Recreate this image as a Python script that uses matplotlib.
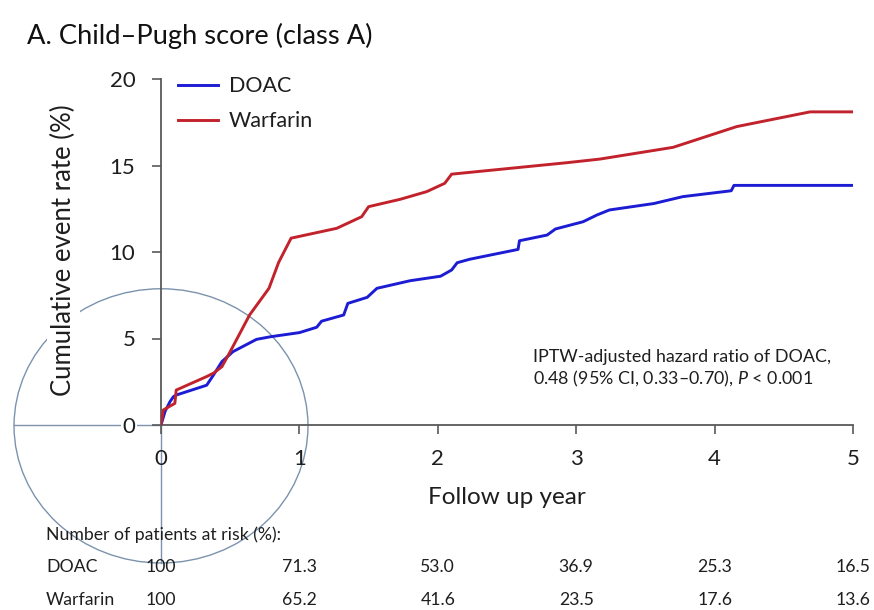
#
# Cumulative event rate, DOAC vs warfarin, Child-Pugh class A, with risk table
#

import matplotlib
matplotlib.use("Agg")
import matplotlib.pyplot as plt
import matplotlib.transforms as mtransforms
from matplotlib.patches import Ellipse

plt.rcParams['font.family'] = ['Lato', 'DejaVu Sans']
plt.rcParams['mathtext.fontset'] = 'custom'
plt.rcParams['mathtext.rm'] = 'Lato'
plt.rcParams['mathtext.it'] = 'Lato:italic'

# curves (year, cumulative event rate %)
doac_years = [0, 0.03, 0.065, 0.09, 0.11, 0.33, 0.38, 0.44, 0.52, 0.69, 0.79, 1.0,
              1.125, 1.16, 1.32, 1.35, 1.49, 1.56, 1.8, 2.02, 2.1, 2.14, 2.23,
              2.58, 2.59, 2.79, 2.85, 3.05, 3.15, 3.24, 3.56, 3.77, 4.12, 4.14, 5.0]
doac_rate = [0, 0.8, 1.35, 1.64, 1.73, 2.3, 2.9, 3.66, 4.24, 4.95, 5.1, 5.34,
             5.65, 6.0, 6.36, 7.03, 7.38, 7.9, 8.34, 8.6, 8.96, 9.38, 9.58,
             10.15, 10.65, 10.98, 11.33, 11.75, 12.14, 12.43, 12.8, 13.2, 13.54, 13.85, 13.85]

warf_years = [0, 0.017, 0.1, 0.11, 0.33, 0.38, 0.44, 0.5, 0.64, 0.78, 0.85, 0.94,
              1.27, 1.45, 1.5, 1.73, 1.92, 2.05, 2.1, 2.93, 3.17, 3.7, 4.16, 4.69, 5.0]
warf_rate = [0, 0.87, 1.25, 2.02, 2.8, 3.0, 3.37, 4.24, 6.36, 7.9, 9.4, 10.8,
             11.37, 12.04, 12.62, 13.05, 13.49, 13.97, 14.5, 15.16, 15.37, 16.05, 17.25, 18.1, 18.1]

# patients at risk (%)
risk_years = [0, 1, 2, 3, 4, 5]
doac_risk = ["100", "71.3", "53.0", "36.9", "25.3", "16.5"]
warf_risk = ["100", "65.2", "41.6", "23.5", "17.6", "13.6"]

BLUE = '#1c1cd4'
RED = '#c2222b'
SPINE = '#595959'
OVERLAY = '#7b93ad'
TXT = '#1e1e1e'

fig = plt.figure(figsize=(8.74, 6.10), dpi=100)
ax = fig.add_axes([161 / 874, 1 - 425 / 610, 692 / 874, 346 / 610])

ax.plot(doac_years, doac_rate, color=BLUE, lw=2.1, label='DOAC', zorder=3)
ax.plot(warf_years, warf_rate, color=RED, lw=2.1, label='Warfarin', zorder=3)

ax.set_xlim(0, 5)
ax.set_ylim(0, 20)
ax.set_xticks(risk_years)
ax.set_yticks([0, 5, 10, 15, 20])

for side in ['top', 'right']:
    ax.spines[side].set_visible(False)
for side in ['left', 'bottom']:
    ax.spines[side].set_color(SPINE)
    ax.spines[side].set_linewidth(1.3)
ax.tick_params(axis='both', direction='out', length=6.5, width=1.2, color=SPINE,
               labelsize=16, labelcolor=TXT)
ax.tick_params(axis='y', pad=12)
ax.tick_params(axis='x', pad=11)
for lab in ax.get_yticklabels():
    lab.set_bbox(dict(facecolor='white', edgecolor='none', pad=1))

# the circle and cross drawn over the origin in the source figure
ax.add_patch(Ellipse((0, -0.05), 2.124, 15.85, fill=False, edgecolor=OVERLAY,
                     lw=1, clip_on=False, zorder=0.5))
ax.plot([-1.062, 0], [0, 0], color=OVERLAY, lw=1, clip_on=False, zorder=0.5)
ax.plot([0, 0], [0, -7.97], color=OVERLAY, lw=1, clip_on=False, zorder=0.5)

ax.set_xlabel('Follow up year', fontsize=17.5, labelpad=13, color=TXT)
ax.set_ylabel('Cumulative event rate (%)', fontsize=18.5, color=TXT,
              bbox=dict(facecolor='white', edgecolor='none', pad=3))
ax.yaxis.set_label_coords(-0.123, 0.505)

leg = ax.legend(loc='upper left', bbox_to_anchor=(0.0246, 1.008), frameon=False,
                fontsize=15.5, handlelength=1.86, handletextpad=0.5, labelspacing=0.7,
                borderpad=0, borderaxespad=0)
for t in leg.get_texts():
    t.set_color(TXT)

ax.text(0.538, 0.162, 'IPTW-adjusted hazard ratio of DOAC,\n'
        r'0.48 (95% CI, 0.33–0.70), $P$ < 0.001',
        transform=ax.transAxes, fontsize=12.9, va='center', ha='left',
        linespacing=1.3, color=TXT)

fig.text(27 / 874, 1 - 44 / 610, 'A. Child–Pugh score (class A)', fontsize=19.6,
         va='baseline', ha='left', color='#111111')

# risk table under the axis
fig.text(46 / 874, 1 - 535 / 610, 'Number of patients at risk (%):', fontsize=12.7,
         va='center', ha='left', color=TXT)
fig.text(46 / 874, 1 - 567 / 610, 'DOAC', fontsize=12.7, va='center', ha='left', color=TXT)
fig.text(46 / 874, 1 - 600 / 610, 'Warfarin', fontsize=12.7, va='center', ha='left', color=TXT)
trans = mtransforms.blended_transform_factory(ax.transData, fig.transFigure)
for yr, d, w in zip(risk_years, doac_risk, warf_risk):
    ax.text(yr, 1 - 567 / 610, d, transform=trans, fontsize=12.7, ha='center', va='center',
            color=TXT, clip_on=False)
    ax.text(yr, 1 - 600 / 610, w, transform=trans, fontsize=12.7, ha='center', va='center',
            color=TXT, clip_on=False)

fig.savefig('out.png', dpi=100)
